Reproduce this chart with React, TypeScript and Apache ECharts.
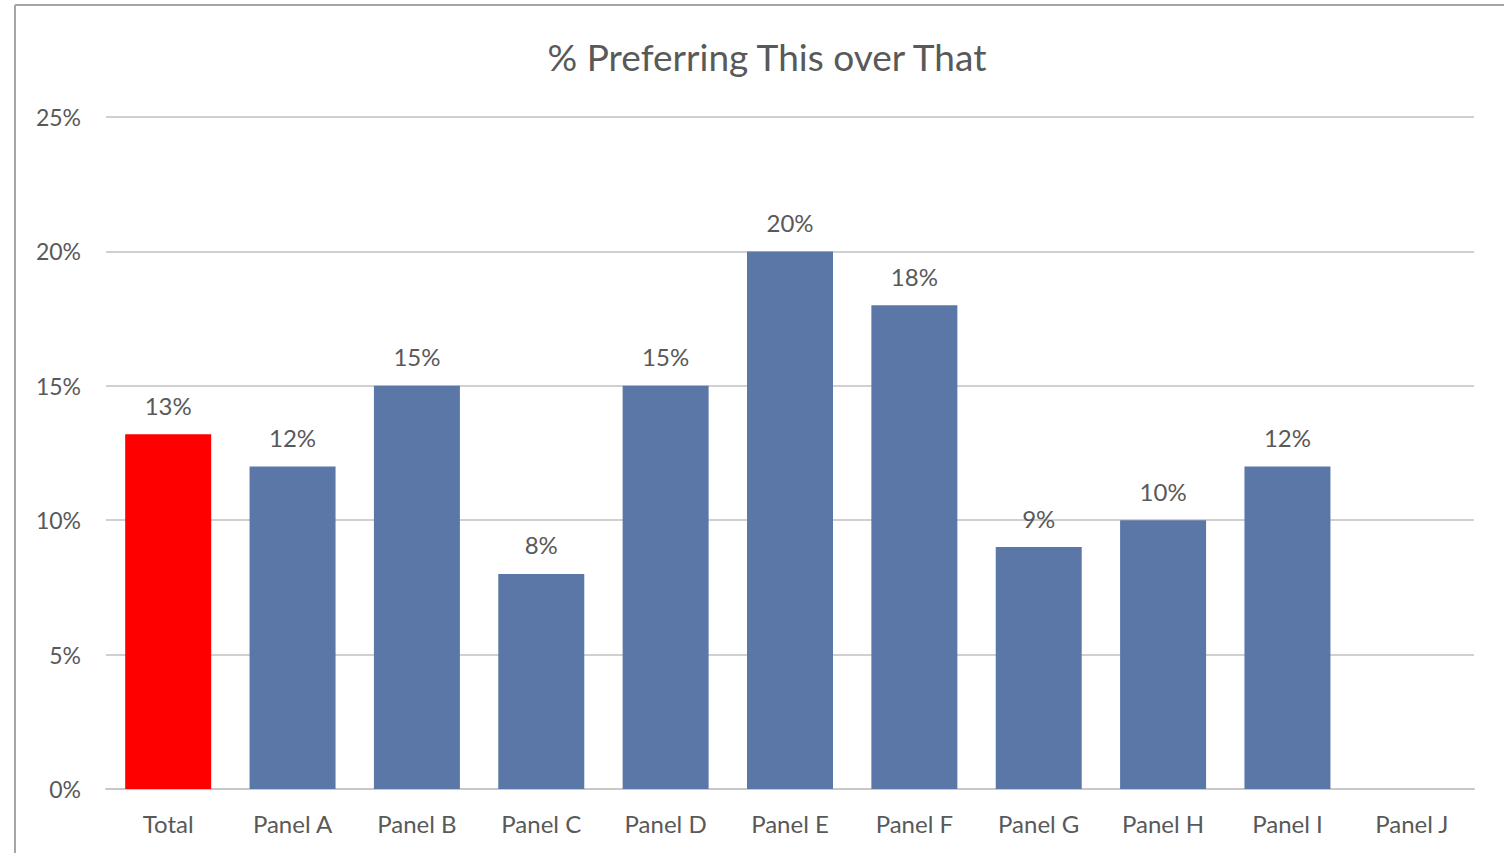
import React, { useEffect, useRef } from "react";
import * as echarts from "echarts";

const categories = ["Total", "Panel A", "Panel B", "Panel C", "Panel D", "Panel E", "Panel F", "Panel G", "Panel H", "Panel I", "Panel J"];
const values: (number | null)[] = [13.2, 12, 15, 8, 15, 20, 18, 9, 10, 12, null];
const barColors = ["#ff0000", "#5b77a7", "#5b77a7", "#5b77a7", "#5b77a7", "#5b77a7", "#5b77a7", "#5b77a7", "#5b77a7", "#5b77a7", "#5b77a7"];
const titleText = "% Preferring This over That";

export default function App() {
  const ref = useRef<HTMLDivElement>(null);
  useEffect(() => {
    if (!ref.current) return;
    const chart = echarts.init(ref.current, null, { renderer: "svg" });
    const font = "Lato, 'Open Sans', sans-serif";
    chart.setOption({
      animation: false,
      backgroundColor: "#ffffff",
      textStyle: { fontFamily: font },
      title: {
        text: titleText,
        left: 762,
        top: 33,
        textAlign: "center",
        textStyle: { fontFamily: font, fontSize: 37, fontWeight: "normal", color: "#595959" },
      },
      graphic: [
        { type: "line", shape: { x1: 15, y1: 5, x2: 1504, y2: 5 }, style: { stroke: "#a6a6a6", lineWidth: 2 } },
        { type: "line", shape: { x1: 15, y1: 5, x2: 15, y2: 853 }, style: { stroke: "#a6a6a6", lineWidth: 2 } },
      ],
      grid: { left: 106, right: 30, top: 117, bottom: 64, containLabel: false },
      xAxis: {
        type: "category",
        data: categories,
        axisLine: { show: true, lineStyle: { color: "#c8c8c8", width: 2 } },
        axisTick: { show: false },
        axisLabel: { color: "#595959", fontSize: 24, margin: 22, fontFamily: font, interval: 0 },
      },
      yAxis: {
        type: "value",
        min: 0,
        max: 25,
        interval: 5,
        axisLine: { show: false },
        axisTick: { show: false },
        splitLine: { lineStyle: { color: "#d0d0d0", width: 2 } },
        axisLabel: { color: "#595959", fontSize: 23, margin: 25, fontFamily: font, formatter: (v: number) => v + "%" },
      },
      series: [
        {
          type: "bar",
          barWidth: 86,
          data: values.map((v, i) => ({ value: v, itemStyle: { color: barColors[i] } })),
          label: {
            show: true,
            position: "top",
            distance: 17,
            color: "#595959",
            fontSize: 24,
            fontFamily: font,
            formatter: (p: any) => (p.value == null ? "" : Math.round(p.value) + "%"),
          },
        },
      ],
    });
    return () => chart.dispose();
  }, []);
  return <div ref={ref} style={{ position: "fixed", left: 0, top: 0, width: 1504, height: 853 }} />;
}
